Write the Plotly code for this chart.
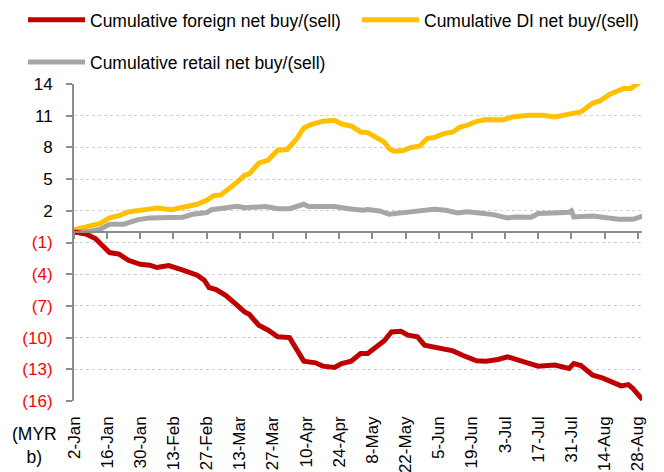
import plotly.graph_objects as go

# ---------------- data (MYR b) ----------------
di_dates = ["2019-01-02", "2019-01-09", "2019-01-13", "2019-01-17", "2019-01-21", "2019-01-25",
            "2019-01-30", "2019-02-03", "2019-02-06", "2019-02-12", "2019-02-18", "2019-02-23",
            "2019-02-27", "2019-03-02", "2019-03-05", "2019-03-08", "2019-03-12", "2019-03-15",
            "2019-03-17", "2019-03-21", "2019-03-25", "2019-03-29", "2019-04-02", "2019-04-06",
            "2019-04-09", "2019-04-12", "2019-04-17", "2019-04-22", "2019-04-25", "2019-04-29",
            "2019-05-03", "2019-05-06", "2019-05-09", "2019-05-13", "2019-05-15", "2019-05-17",
            "2019-05-21", "2019-05-24", "2019-05-28", "2019-05-31", "2019-06-03", "2019-06-07",
            "2019-06-11", "2019-06-14", "2019-06-17", "2019-06-21", "2019-06-25", "2019-07-02",
            "2019-07-06", "2019-07-09", "2019-07-13", "2019-07-19", "2019-07-24", "2019-07-31",
            "2019-08-04", "2019-08-09", "2019-08-12", "2019-08-16", "2019-08-19", "2019-08-22",
            "2019-08-25", "2019-08-28", "2019-08-30"]
di_values = [0.2, 0.54, 0.8, 1.33, 1.55, 1.9,
             2.05, 2.1, 2.27, 2.1, 2.43, 2.62,
             3.0, 3.44, 3.5, 4.0, 4.73, 5.36,
             5.5, 6.5, 6.8, 7.73, 7.8, 8.8,
             9.84, 10.15, 10.47, 10.57, 10.2, 10.03,
             9.46, 9.4, 9.05, 8.5, 7.89, 7.63,
             7.7, 7.98, 8.14, 8.84, 8.93, 9.3,
             9.46, 9.93, 10.1, 10.47, 10.63, 10.6,
             10.88, 10.95, 11.04, 11.04, 10.88, 11.2,
             11.35, 12.2, 12.4, 13.0, 13.25, 13.57,
             13.57, 13.97, 14.35]

retail_dates = ["2019-01-02", "2019-01-09", "2019-01-13", "2019-01-17", "2019-01-23", "2019-01-29",
                "2019-02-03", "2019-02-07", "2019-02-11", "2019-02-17", "2019-02-21", "2019-02-27",
                "2019-03-01", "2019-03-08", "2019-03-12", "2019-03-15", "2019-03-24", "2019-03-29",
                "2019-04-03", "2019-04-09", "2019-04-11", "2019-04-17", "2019-04-22", "2019-04-28",
                "2019-05-04", "2019-05-06", "2019-05-11", "2019-05-15", "2019-05-20", "2019-05-24",
                "2019-06-03", "2019-06-08", "2019-06-13", "2019-06-17", "2019-06-22", "2019-06-28",
                "2019-07-04", "2019-07-08", "2019-07-14", "2019-07-17", "2019-07-23", "2019-07-30",
                "2019-07-31", "2019-08-01", "2019-08-09", "2019-08-14", "2019-08-20", "2019-08-26",
                "2019-08-30"]
retail_values = [0.0, 0.07, 0.25, 0.73, 0.73, 1.17,
                 1.33, 1.38, 1.33, 1.4, 1.67, 1.83,
                 2.1, 2.3, 2.43, 2.3, 2.4, 2.2,
                 2.2, 2.62, 2.4, 2.4, 2.4, 2.2,
                 2.05, 2.13, 1.99, 1.67, 1.74, 1.9,
                 2.15, 2.05, 1.8, 1.9, 1.8, 1.64,
                 1.33, 1.42, 1.4, 1.74, 1.8, 1.86,
                 1.99, 1.42, 1.51, 1.33, 1.2, 1.2,
                 1.5]

foreign_dates = ["2019-01-02", "2019-01-07", "2019-01-11", "2019-01-14", "2019-01-17", "2019-01-21",
                 "2019-01-25", "2019-01-30", "2019-02-03", "2019-02-06", "2019-02-11", "2019-02-17",
                 "2019-02-23", "2019-02-26", "2019-02-28", "2019-03-03", "2019-03-07", "2019-03-11",
                 "2019-03-15", "2019-03-17", "2019-03-21", "2019-03-25", "2019-03-29", "2019-04-03",
                 "2019-04-06", "2019-04-09", "2019-04-14", "2019-04-17", "2019-04-22", "2019-04-25",
                 "2019-04-29", "2019-05-03", "2019-05-06", "2019-05-09", "2019-05-13", "2019-05-16",
                 "2019-05-20", "2019-05-23", "2019-05-27", "2019-05-30", "2019-06-03", "2019-06-07",
                 "2019-06-11", "2019-06-15", "2019-06-21", "2019-06-25", "2019-06-30", "2019-07-04",
                 "2019-07-08", "2019-07-11", "2019-07-17", "2019-07-24", "2019-07-30", "2019-08-01",
                 "2019-08-04", "2019-08-09", "2019-08-13", "2019-08-17", "2019-08-21", "2019-08-24",
                 "2019-08-26", "2019-08-28", "2019-08-30"]
foreign_values = [0.0, -0.2, -0.63, -1.26, -1.95, -2.1,
                  -2.68, -3.06, -3.15, -3.37, -3.18, -3.62,
                  -4.1, -4.57, -5.26, -5.45, -6.0, -6.77,
                  -7.57, -7.8, -8.83, -9.3, -9.93, -10.0,
                  -11.03, -12.23, -12.39, -12.7, -12.83, -12.45,
                  -12.23, -11.5, -11.5, -11.03, -10.3, -9.46,
                  -9.4, -9.77, -9.93, -10.72, -10.88, -11.13,
                  -11.26, -11.67, -12.2, -12.23, -12.07, -11.82,
                  -12.15, -12.3, -12.7, -12.6, -12.92, -12.45,
                  -12.65, -13.56, -13.81, -14.25, -14.57, -14.45,
                  -14.82, -15.36, -15.86]

y_tick_values = [14, 11, 8, 5, 2, -1, -4, -7, -10, -13, -16]

series_names = ["Cumulative foreign net buy/(sell)",
                "Cumulative DI net buy/(sell)",
                "Cumulative retail net buy/(sell)"]
series_colors = ["#C00000", "#FFC000", "#A6A6A6"]

# ---------------- figure ----------------
FONT = "Liberation Sans, Arial, sans-serif"


def fmt_tick(v):
    if v < 0:
        return f"<span style='color:#FF0000'>({abs(v)})</span>"
    return str(v)


y_min, y_max = -16, 14
DAY_MS = 86400000

fig = go.Figure()
fig.add_trace(go.Scatter(x=foreign_dates, y=foreign_values, mode="lines",
                         name=series_names[0], line=dict(color=series_colors[0], width=5),
                         legend="legend", xaxis="x2"))
fig.add_trace(go.Scatter(x=di_dates, y=di_values, mode="lines",
                         name=series_names[1], line=dict(color=series_colors[1], width=5),
                         legend="legend3"))
fig.add_trace(go.Scatter(x=retail_dates, y=retail_values, mode="lines",
                         name=series_names[2], line=dict(color=series_colors[2], width=5),
                         legend="legend2"))

x_range = ["2019-01-02", "2019-08-29 19:00"]

PLOT_L, PLOT_W = 74, 568
LEG_X = (23 - PLOT_L) / PLOT_W   # left legend column
LEG3_X = (357 - PLOT_L) / PLOT_W  # second column of first legend row

legend_common = dict(orientation="h", xanchor="left", yanchor="middle",
                     font=dict(family=FONT, size=17.5, color="black"),
                     itemwidth=57, bgcolor="rgba(0,0,0,0)", borderwidth=0)

fig.update_layout(
    width=664, height=472,
    margin=dict(l=PLOT_L, r=22, t=84, b=71, autoexpand=False),
    paper_bgcolor="white", plot_bgcolor="white",
    font=dict(family=FONT, size=17, color="black"),
    showlegend=True,
    legend=dict(x=LEG_X, y=1.202, **legend_common),
    legend3=dict(x=LEG3_X, y=1.202, **legend_common),
    legend2=dict(x=LEG_X, y=1.069, **legend_common),
    xaxis=dict(type="date", range=x_range, tick0="2019-01-02", dtick=14 * DAY_MS,
               tickformat="%-d-%b", tickangle=-90, showgrid=False, showline=False,
               zeroline=False, ticks="", ticklabelstandoff=11, automargin=False,
               tickfont=dict(family=FONT, size=17, color="black")),
    xaxis2=dict(type="date", overlaying="x", matches="x", anchor="free",
                position=(0 - y_min) / (y_max - y_min),
                tick0="2019-01-02", dtick=14 * DAY_MS, showticklabels=False,
                showgrid=False, zeroline=False, showline=True, linecolor="#8c8c8c",
                linewidth=2, ticks="outside", ticklen=6, tickwidth=2, tickcolor="#8c8c8c",
                automargin=False),
    yaxis=dict(range=[y_min, y_max], tickvals=y_tick_values,
               ticktext=[fmt_tick(v) for v in y_tick_values],
               showline=True, linecolor="#8c8c8c", linewidth=2,
               ticks="outside", ticklen=6, tickwidth=2, tickcolor="#8c8c8c",
               showgrid=True, gridcolor="#d0d0d0", griddash="dot", gridwidth=1,
               zeroline=False, ticklabelstandoff=10, automargin=False,
               tickfont=dict(family=FONT, size=17, color="black")),
    annotations=[dict(text="(MYR<br>b)", xref="paper", yref="paper",
                      x=-0.0687, y=-0.139, xanchor="center", yanchor="middle",
                      align="center", showarrow=False,
                      font=dict(family=FONT, size=17.5, color="black"))],
)

fig.write_html("out.html", config={"displayModeBar": False},
               post_script="document.body.style.margin='0px';document.body.style.overflow='hidden';")
